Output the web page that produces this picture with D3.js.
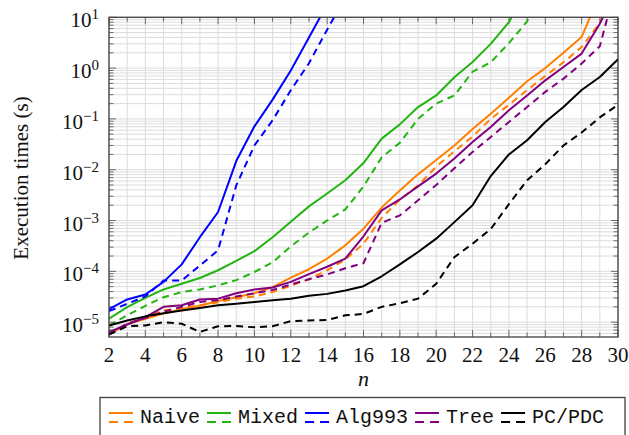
<!DOCTYPE html>
<html>
<head>
<meta charset="utf-8">
<script src="https://cdnjs.cloudflare.com/ajax/libs/d3/7.8.5/d3.min.js"></script>
<style>
  body { margin: 0; background: #fff; }
</style>
</head>
<body>
<div id="chart"></div>
<script>

// problem size
var nValues = [2, 3, 4, 5, 6, 7, 8, 9, 10, 11, 12, 13, 14, 15, 16, 17, 18, 19, 20, 21, 22, 23, 24, 25, 26, 27, 28, 29, 30];

// execution times (s), solid = first variant, dashed = second variant
var naive = [5.7e-6, 9.1e-6, 1.17e-5, 1.47e-5, 1.8e-5, 2.1e-5, 2.6e-5, 3.1e-5, 3.7e-5, 4.9e-5, 7.5e-5, 1.1e-4, 1.78e-4, 3.25e-4, 6.9e-4, 1.8e-3, 3.9e-3, 8.1e-3, 0.0155, 0.030, 0.063, 0.127, 0.26, 0.55, 1.0, 2.0, 4.1, 28];
var naiveDashed = [5.9e-6, 9.3e-6, 1.25e-5, 1.7e-5, 1.9e-5, 2.15e-5, 2.45e-5, 2.9e-5, 3.2e-5, 3.9e-5, 5.2e-5, 7e-5, 1.05e-4, 1.7e-4, 3.5e-4, 1.12e-3, 2.6e-3, 4.9e-3, 0.0115, 0.023, 0.045, 0.1, 0.19, 0.37, 0.7, 1.3, 2.6, 7.8, 60];
var mixed = [1.17e-5, 1.98e-5, 3.0e-5, 4.4e-5, 5.7e-5, 7.4e-5, 1.05e-4, 1.6e-4, 2.5e-4, 4.7e-4, 9.5e-4, 1.9e-3, 3.4e-3, 6.2e-3, 0.0135, 0.041, 0.078, 0.171, 0.29, 0.66, 1.32, 3.0, 8.0, 40];
var mixedDashed = [8.6e-6, 1.36e-5, 2.1e-5, 3.1e-5, 3.9e-5, 4.4e-5, 5.3e-5, 6.7e-5, 9.7e-5, 1.5e-4, 3.1e-4, 5.8e-4, 1.0e-3, 1.65e-3, 4.7e-3, 0.0175, 0.034, 0.1, 0.2, 0.29, 0.85, 1.3, 3.1, 8.3, 40];
var alg993 = [1.8e-5, 2.8e-5, 3.5e-5, 6.2e-5, 1.37e-4, 4.7e-4, 1.47e-3, 0.0148, 0.0715, 0.24, 0.9, 4.0, 18];
var alg993Dashed = [1.65e-5, 2.3e-5, 3.2e-5, 6.6e-5, 6.6e-5, 1.3e-4, 2.6e-4, 4.9e-3, 0.030, 0.094, 0.366, 1.25, 5.7, 25];
var tree = [6.4e-6, 9e-6, 1.25e-5, 2.0e-5, 2.15e-5, 2.8e-5, 2.9e-5, 3.7e-5, 4.4e-5, 4.8e-5, 6.2e-5, 8.8e-5, 1.23e-4, 1.78e-4, 4.9e-4, 1.58e-3, 2.6e-3, 4.7e-3, 8.4e-3, 0.0166, 0.035, 0.069, 0.148, 0.29, 0.575, 1.05, 1.93, 7.5, 40];
var treeDashed = [6.0e-6, 9.3e-6, 1.2e-5, 1.6e-5, 2.0e-5, 2.5e-5, 2.7e-5, 3.2e-5, 3.7e-5, 4.3e-5, 5.5e-5, 7e-5, 8.7e-5, 1.15e-4, 1.45e-4, 9e-4, 1.26e-3, 2.5e-3, 5e-3, 0.0107, 0.0224, 0.044, 0.087, 0.171, 0.34, 0.62, 1.23, 2.7, 60];
var pc = [8.6e-6, 1.08e-5, 1.3e-5, 1.5e-5, 1.7e-5, 1.9e-5, 2.15e-5, 2.3e-5, 2.5e-5, 2.7e-5, 2.9e-5, 3.3e-5, 3.6e-5, 4.2e-5, 5.1e-5, 8e-5, 1.37e-4, 2.4e-4, 4.4e-4, 9.3e-4, 2e-3, 7.5e-3, 0.020, 0.038, 0.087, 0.171, 0.37, 0.67, 1.49];
var pcDashed = [5.7e-6, 8.3e-6, 8.6e-6, 1.0e-5, 9.3e-6, 6.4e-6, 8.3e-6, 8.4e-6, 7.9e-6, 8.3e-6, 1.05e-5, 1.08e-5, 1.1e-5, 1.36e-5, 1.45e-5, 2e-5, 2.35e-5, 2.9e-5, 5.7e-5, 1.9e-4, 3.5e-4, 6.8e-4, 2.1e-3, 6.2e-3, 0.0128, 0.030, 0.054, 0.107, 0.19];

var legendNames = ["Naive", "Mixed", "Alg993", "Tree", "PC/PDC"];
var legendColors = ["#ff8000", "#22b411", "#0000ff", "#800080", "#000000"];

var seriesList = [
  { name: "Naive", solid: naive, dashed: naiveDashed },
  { name: "Mixed", solid: mixed, dashed: mixedDashed },
  { name: "Alg993", solid: alg993, dashed: alg993Dashed },
  { name: "Tree", solid: tree, dashed: treeDashed },
  { name: "PC/PDC", solid: pc, dashed: pcDashed }
];

var serifFont = "'Liberation Serif', 'Times New Roman', Tinos, 'DejaVu Serif', 'Noto Serif', serif";
var monoFont = "'Liberation Mono', 'Courier New', Cousine, 'DejaVu Sans Mono', monospace";

var margin = { top: 17.3, right: 11, bottom: 98, left: 109 };
var width = 629 - margin.left - margin.right,
    height = 435 - margin.top - margin.bottom;

var root = d3.select("#chart").append("svg")
    .attr("width", 629)
    .attr("height", 435);

var svg = root.append("g")
    .attr("transform", "translate(" + margin.left + "," + margin.top + ")");

// scales
var x = d3.scaleLinear()
    .domain([2, 30])
    .range([0, width]);

var y = d3.scaleLog()
    .domain([5.1e-6, 10])
    .range([height, 0]);

// tick positions
var xTicks = nValues;
var xMajor = nValues.filter(function(d) { return d % 2 === 0; });
var yMinor = [];
[-6, -5, -4, -3, -2, -1, 0].forEach(function(e) {
  for (var k = 1; k <= 9; k++) {
    var v = k * Math.pow(10, e);
    if (v >= y.domain()[0] && v <= y.domain()[1]) yMinor.push(v);
  }
});
yMinor.push(10);
var yMajor = [1e-5, 1e-4, 1e-3, 1e-2, 1e-1, 1, 10];

// grid
svg.append("g")
    .attr("class", "grid")
    .selectAll("line")
    .data(xTicks)
    .enter().append("line")
    .attr("x1", function(d) { return x(d); })
    .attr("x2", function(d) { return x(d); })
    .attr("y1", 0)
    .attr("y2", height)
    .attr("stroke", "#dcdcdc")
    .attr("stroke-width", 1);

svg.append("g")
    .attr("class", "grid")
    .selectAll("line")
    .data(yMinor)
    .enter().append("line")
    .attr("x1", 0)
    .attr("x2", width)
    .attr("y1", function(d) { return y(d); })
    .attr("y2", function(d) { return y(d); })
    .attr("stroke", "#dcdcdc")
    .attr("stroke-width", 1);

// inward tick marks on all four sides
var tickColor = "#6a6a6a";
var ticks = svg.append("g").attr("class", "ticks");

xTicks.forEach(function(d) {
  var len = (d % 2 === 0) ? 7 : 4.5;
  ticks.append("line")
      .attr("x1", x(d)).attr("x2", x(d))
      .attr("y1", height).attr("y2", height - len)
      .attr("stroke", tickColor);
  ticks.append("line")
      .attr("x1", x(d)).attr("x2", x(d))
      .attr("y1", 0).attr("y2", len)
      .attr("stroke", tickColor);
});

yMinor.forEach(function(d) {
  var len = (yMajor.indexOf(d) >= 0) ? 7 : 4.5;
  ticks.append("line")
      .attr("x1", 0).attr("x2", len)
      .attr("y1", y(d)).attr("y2", y(d))
      .attr("stroke", tickColor);
  ticks.append("line")
      .attr("x1", width).attr("x2", width - len)
      .attr("y1", y(d)).attr("y2", y(d))
      .attr("stroke", tickColor);
});

// lines
svg.append("clipPath")
    .attr("id", "plot-clip")
  .append("rect")
    .attr("width", width)
    .attr("height", height);

var line = d3.line()
    .x(function(d, i) { return x(nValues[i]); })
    .y(function(d) { return y(d); });

var plot = svg.append("g").attr("clip-path", "url(#plot-clip)");

seriesList.forEach(function(s, i) {
  plot.append("path")
      .datum(s.solid)
      .attr("fill", "none")
      .attr("stroke", legendColors[i])
      .attr("stroke-width", 2)
      .attr("stroke-linejoin", "round")
      .attr("d", line);
  plot.append("path")
      .datum(s.dashed)
      .attr("fill", "none")
      .attr("stroke", legendColors[i])
      .attr("stroke-width", 2)
      .attr("stroke-dasharray", "7,5")
      .attr("d", line);
});

// frame
svg.append("rect")
    .attr("width", width)
    .attr("height", height)
    .attr("fill", "none")
    .attr("stroke", "#404040")
    .attr("stroke-width", 1.3);

// x tick labels
svg.append("g")
    .selectAll("text")
    .data(xMajor)
    .enter().append("text")
    .attr("x", function(d) { return x(d); })
    .attr("y", height + 25)
    .attr("text-anchor", "middle")
    .attr("font-family", serifFont)
    .attr("font-size", 21)
    .attr("fill", "#111")
    .text(function(d) { return d; });

// y tick labels 10^e
var yLab = svg.append("g")
    .selectAll("text")
    .data(yMajor)
    .enter().append("text")
    .attr("x", -10)
    .attr("y", function(d) { return y(d) + 10; })
    .attr("text-anchor", "end")
    .attr("font-family", serifFont)
    .attr("font-size", 21)
    .attr("fill", "#111");

yLab.append("tspan").text("10");
yLab.append("tspan")
    .attr("dy", -8)
    .attr("font-size", 15)
    .text(function(d) {
      var e = Math.round(Math.log10(d));
      return e < 0 ? "\u2212" + (-e) : String(e);
    });

// axis titles
svg.append("text")
    .attr("x", width / 2)
    .attr("y", height + 49)
    .attr("text-anchor", "middle")
    .attr("font-family", serifFont)
    .attr("font-size", 22)
    .attr("font-style", "italic")
    .attr("fill", "#111")
    .text("n");

root.append("text")
    .attr("transform", "translate(28,178) rotate(-90)")
    .attr("text-anchor", "middle")
    .attr("font-family", serifFont)
    .attr("font-size", 21)
    .attr("fill", "#111")
    .text("Execution times (s)");

// legend
var legend = root.append("g").attr("class", "legend");

legend.append("rect")
    .attr("x", 100)
    .attr("y", 397.5)
    .attr("width", 525)
    .attr("height", 60)
    .attr("fill", "#fff")
    .attr("stroke", "#404040")
    .attr("stroke-width", 1.3);

var lx = 109;
legendNames.forEach(function(name, i) {
  legend.append("line")
      .attr("x1", lx).attr("x2", lx + 24)
      .attr("y1", 413).attr("y2", 413)
      .attr("stroke", legendColors[i])
      .attr("stroke-width", 2);
  legend.append("line")
      .attr("x1", lx).attr("x2", lx + 24)
      .attr("y1", 422).attr("y2", 422)
      .attr("stroke", legendColors[i])
      .attr("stroke-width", 2)
      .attr("stroke-dasharray", "9,6");
  var t = legend.append("text")
      .attr("x", lx + 31)
      .attr("y", 423)
      .attr("font-family", monoFont)
      .attr("font-size", 20)
      .attr("fill", "#111")
      .text(name);
  lx = lx + 31 + t.node().getComputedTextLength() + 7;
});

</script>
</body>
</html>
